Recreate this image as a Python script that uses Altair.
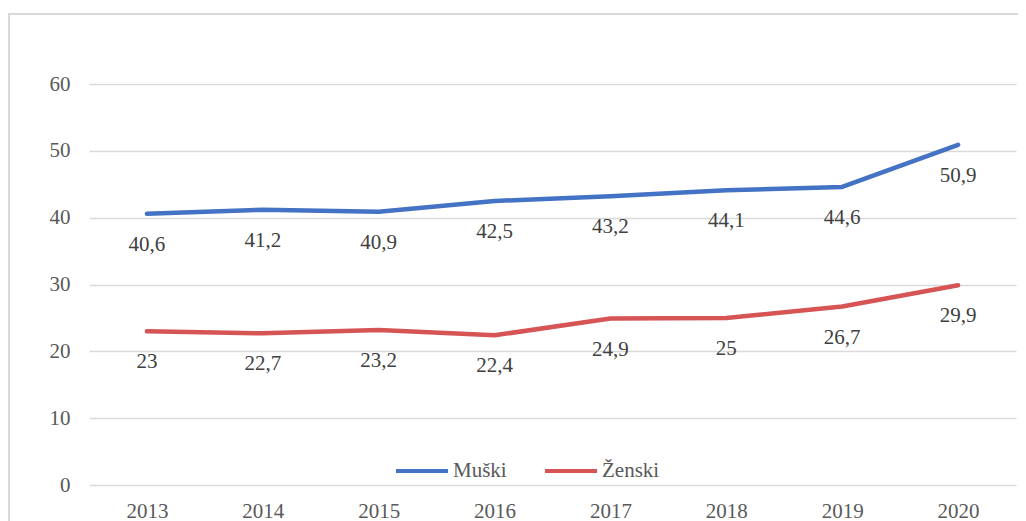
import altair as alt
import pandas as pd

years = ["2013", "2014", "2015", "2016", "2017", "2018", "2019", "2020"]
muski = [40.6, 41.2, 40.9, 42.5, 43.2, 44.1, 44.6, 50.9]
zenski = [23, 22.7, 23.2, 22.4, 24.9, 25, 26.7, 29.9]
series = ["Muški", "Ženski"]
colors = ["#4472C4", "#D65454"]

rows = []
for s, vals in zip(series, [muski, zenski]):
    for y, v in zip(years, vals):
        rows.append({"Godina": y, "Serija": s, "Vrijednost": v,
                     "Oznaka": (f"{v:g}").replace(".", ",")})
df = pd.DataFrame(rows)

FONT = "Liberation Serif"

x_enc = alt.X("Godina:O", sort=years, title=None,
              scale=alt.Scale(type="point", padding=0.5),
              axis=alt.Axis(labelAngle=0, labelFontSize=21, labelColor="#595959",
                            labelFont=FONT, ticks=False, domain=False, grid=False,
                            labelPadding=15))
y_enc = alt.Y("Vrijednost:Q", title=None,
              scale=alt.Scale(domain=[0, 60], nice=False),
              axis=alt.Axis(values=[0, 10, 20, 30, 40, 50, 60], labelFontSize=21,
                            labelColor="#595959", labelFont=FONT, ticks=False,
                            domain=False, labelPadding=19, gridColor="#D9D9D9",
                            gridWidth=1.5))
color_enc = alt.Color("Serija:N", sort=series,
                      scale=alt.Scale(domain=series, range=colors),
                      legend=alt.Legend(title=None, orient="none", direction="horizontal",
                                        legendX=305, legendY=359, symbolType="stroke",
                                        symbolSize=2704, symbolStrokeWidth=4,
                                        labelFontSize=21, labelFont=FONT,
                                        labelColor="#595959", columnPadding=30,
                                        labelOffset=3))

frame = alt.Chart(df).mark_rect(fill=None, stroke="#D9D9D9", strokeWidth=2).encode(
    x=alt.value(-80), x2=alt.value(960), y=alt.value(-70), y2=alt.value(480)
)

lines = alt.Chart(df).mark_line(strokeWidth=4.5, interpolate="linear",
                                strokeCap="round", strokeJoin="round").encode(
    x=x_enc, y=y_enc, color=color_enc, detail="Serija:N"
)

labels = alt.Chart(df).mark_text(fontSize=21, font=FONT, color="#404040",
                                 dy=31, baseline="middle").encode(
    x=alt.X("Godina:O", sort=years),
    y=alt.Y("Vrijednost:Q"),
    text="Oznaka:N"
)

chart = alt.layer(frame, lines, labels).properties(
    width=927, height=401,
    background="white",
    autosize=alt.AutoSizeParams(type="none"),
    padding={"left": 81, "top": 76, "right": 2, "bottom": 40},
).configure_view(stroke="transparent", strokeWidth=0)

chart.save("out.html", embed_options={"renderer": "svg", "actions": False})
